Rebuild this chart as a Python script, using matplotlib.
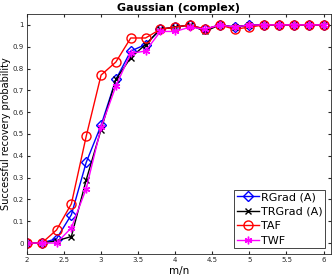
import matplotlib
matplotlib.use("Agg")
from matplotlib import pyplot as plt
import numpy as np

# ===================== data =====================
ratio = [2.0, 2.2, 2.4, 2.6, 2.8, 3.0, 3.2, 3.4, 3.6, 3.8, 4.0,
         4.2, 4.4, 4.6, 4.8, 5.0, 5.2, 5.4, 5.6, 5.8, 6.0]

rgrad = [0, 0, 0.02, 0.13, 0.37, 0.54, 0.75, 0.88, 0.91, 0.98, 0.99,
         1.0, 0.98, 1.0, 0.99, 1.0, 1.0, 1.0, 1.0, 1.0, 1.0]
trgrad = [0, 0, 0.01, 0.03, 0.29, 0.52, 0.75, 0.85, 0.91, 0.98, 0.99,
          1.0, 0.97, 1.0, 0.99, 1.0, 1.0, 1.0, 1.0, 1.0, 1.0]
taf = [0, 0, 0.06, 0.18, 0.49, 0.77, 0.83, 0.94, 0.94, 0.98, 0.99,
       1.0, 0.98, 1.0, 0.98, 0.99, 1.0, 1.0, 1.0, 1.0, 1.0]
twf = [0, 0, 0.0, 0.07, 0.25, 0.53, 0.72, 0.87, 0.88, 0.97, 0.97,
       0.99, 0.98, 1.0, 0.99, 1.0, 1.0, 1.0, 1.0, 1.0, 1.0]

xticks = [2, 2.5, 3, 3.5, 4, 4.5, 5, 5.5, 6]
yticks = [0, 0.1, 0.2, 0.3, 0.4, 0.5, 0.6, 0.7, 0.8, 0.9, 1]

# ===================== figure =====================
fig = plt.figure(figsize=(3.32, 2.8), dpi=100)
ax = fig.add_axes([0.081, 0.093, 0.916, 0.857])

ax.plot(ratio, rgrad, color=(0, 0, 1), marker='D', ms=5, mfc='none', lw=1, label='RGrad (A)')
ax.plot(ratio, trgrad, color='black', marker='x', ms=4, lw=1, label='TRGrad (A)')
ax.plot(ratio, taf, color=(1, 0, 0), marker='o', ms=6.5, mfc='none', lw=1, label='TAF')
ax.plot(ratio, twf, color=(1, 0, 1), marker=(6, 2, 0), ms=5.5, lw=1, label='TWF')

ax.set_xlim(2, 6.1)
ax.set_ylim(-0.05, 1.05)
ax.set_xticks(xticks)
ax.set_xticklabels([f"{t:g}" for t in xticks])
ax.set_yticks(yticks)
ax.set_yticklabels([f"{t:g}" for t in yticks])
ax.tick_params(direction='in', length=2.5, labelsize=5, colors='#262626',
               top=True, right=True, pad=2)
for s in ax.spines.values():
    s.set_color('#262626')
    s.set_linewidth(0.6)

ax.set_title("Gaussian (complex)", fontsize=8, fontweight='bold', pad=2)
ax.set_xlabel("m/n", fontsize=7.5, labelpad=2)
ax.set_ylabel("Successful recovery probability", fontsize=7, labelpad=1)

leg = ax.legend(loc='lower right', fontsize=8, fancybox=False, framealpha=1,
                edgecolor='#262626', borderpad=0.25, handlelength=2.0,
                handletextpad=0.2, labelspacing=0.4, borderaxespad=0.5)
leg.get_frame().set_linewidth(0.6)

plt.savefig("out.png", dpi=100)
